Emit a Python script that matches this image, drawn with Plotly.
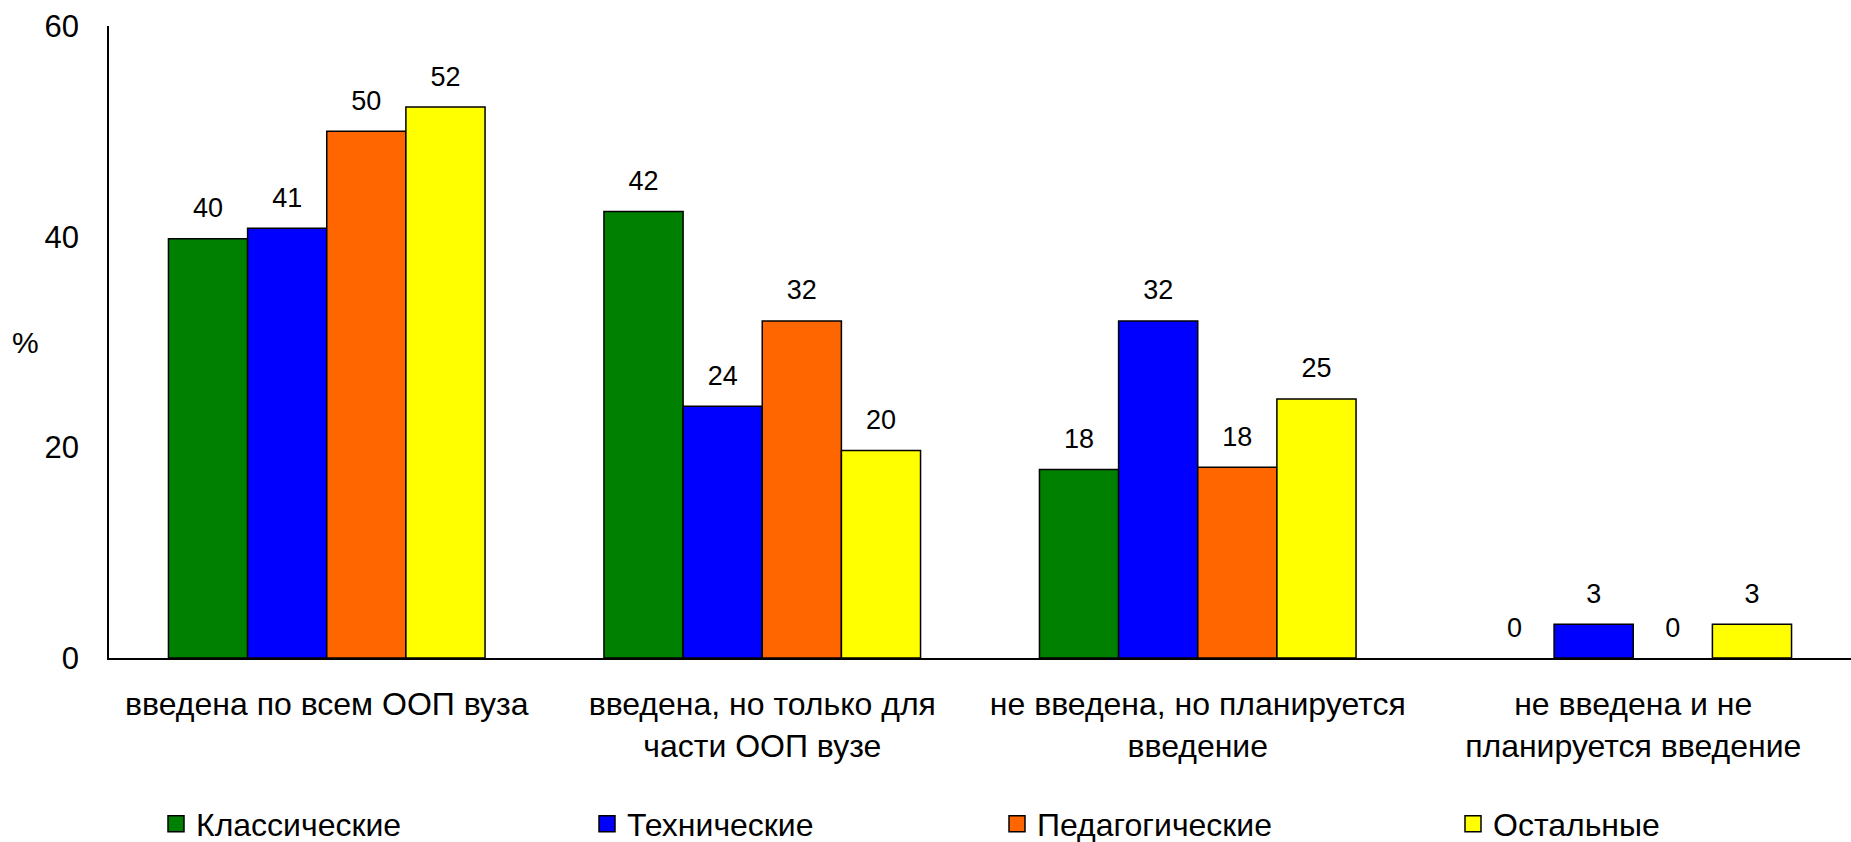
import plotly.graph_objects as go

categories = [
    "введена по всем ООП вуза",
    "введена, но только для<br>части ООП вузе",
    "не введена, но планируется<br>введение",
    "не введена и не<br>планируется введение",
]
series_names = ["Классические", "Технические", "Педагогические", "Остальные"]
classic = [39.8, 42.4, 17.9, 0]
technical = [40.8, 23.9, 32.0, 3.2]
pedagogical = [50.0, 32.0, 18.1, 0]
other = [52.3, 19.7, 24.6, 3.2]
y_ticks = [0, 20, 40, 60]

colors = ["#008000", "#0000FF", "#FF6600", "#FFFF00"]
# left edge (px) of each legend entry along the bottom row
legend_left_px = [156, 587, 997, 1453]
FONT = "Arial, Liberation Sans, sans-serif"

fig = go.Figure()
for idx, (name, values) in enumerate(
    zip(series_names, [classic, technical, pedagogical, other])
):
    fig.add_trace(
        go.Bar(
            x=categories,
            y=values,
            name=name,
            offsetgroup=str(idx),
            showlegend=False,
            marker={
                "color": colors[idx],
                # no outline on empty bars, as in the source chart
                "line": {"color": "black", "width": [1.5 if v else 0 for v in values]},
            },
        )
    )
    # value labels, grouped the same way as the bars
    fig.add_trace(
        go.Scatter(
            x=categories,
            y=values,
            mode="markers+text",
            offsetgroup=str(idx),
            text=[f"{v:.0f}" for v in values],
            textposition="top center",
            textfont={"size": 27, "color": "black", "family": FONT},
            marker={"size": 22, "opacity": 0},
            showlegend=False,
            hoverinfo="skip",
            cliponaxis=False,
        )
    )

# legend entries with larger square swatches, one legend box per entry
legend_layouts = {}
for idx, name in enumerate(series_names):
    legend_key = "legend" if idx == 0 else f"legend{idx + 1}"
    fig.add_trace(
        go.Scatter(
            x=[None],
            y=[None],
            mode="markers",
            name=name,
            legend=legend_key,
            marker={
                "symbol": "square",
                "size": 18,
                "color": colors[idx],
                "line": {"color": "black", "width": 1.5},
            },
        )
    )
    legend_layouts[legend_key] = {
        "orientation": "h",
        "xref": "container",
        "yref": "container",
        "x": legend_left_px[idx] / 1851,
        "xanchor": "left",
        "y": 0.054,
        "yanchor": "top",
        "font": {"size": 32, "family": FONT},
        "bgcolor": "rgba(0,0,0,0)",
    }

fig.add_annotation(
    text="%",
    xref="paper",
    yref="paper",
    x=-0.048,
    xanchor="center",
    y=0.5,
    showarrow=False,
    font={"size": 30, "color": "black", "family": FONT},
)

fig.update_layout(
    width=1851,
    height=842,
    margin={"l": 109, "r": 0, "t": 26, "b": 184, "autoexpand": False},
    paper_bgcolor="white",
    plot_bgcolor="white",
    barmode="group",
    scattermode="group",
    bargap=0.273,
    scattergap=0.273,
    bargroupgap=0,
    font={"family": FONT, "size": 31, "color": "black"},
    showlegend=True,
    xaxis={
        "showline": True,
        "linecolor": "black",
        "linewidth": 2,
        "showgrid": False,
        "ticks": "",
        "automargin": False,
        "ticklabelstandoff": 17,
        "tickfont": {"size": 32},
    },
    yaxis={
        "range": [0, 60],
        "tickvals": y_ticks,
        "showline": True,
        "linecolor": "black",
        "linewidth": 1.5,
        "showgrid": False,
        "zeroline": False,
        "ticks": "",
        "automargin": False,
        "ticklabelstandoff": 22,
        "tickfont": {"size": 31},
    },
    **legend_layouts,
)

fig.write_html(
    "out.html",
    config={"displayModeBar": False},
    post_script="document.body.style.margin = '0';",
)
